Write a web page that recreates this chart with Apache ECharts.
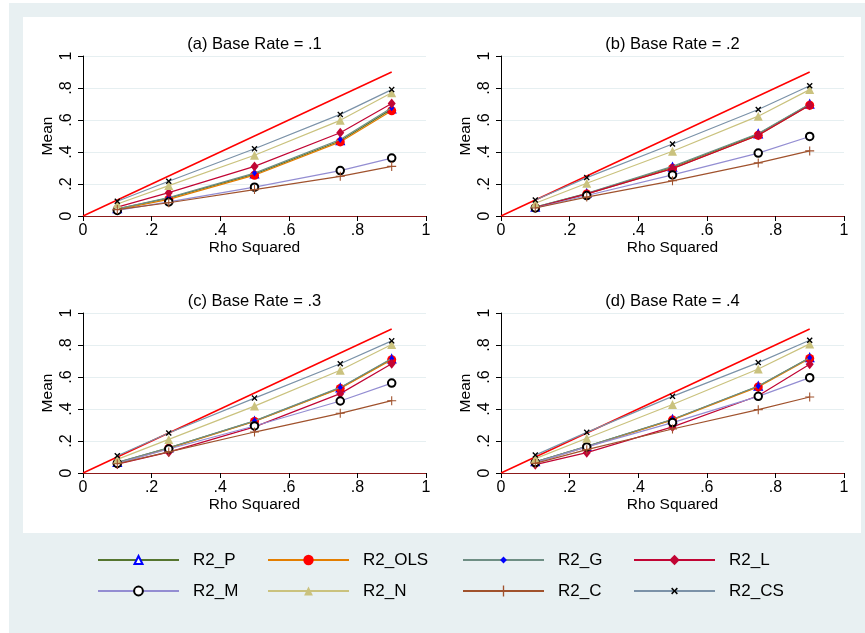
<!DOCTYPE html>
<html>
<head>
<meta charset="utf-8">
<script src="https://cdn.jsdelivr.net/npm/echarts@6/dist/echarts.min.js"></script>
<style>
  html, body { margin: 0; padding: 0; background: #fff; }
  #main { width: 865px; height: 633px; }
</style>
</head>
<body>
<div id="main"></div>
<script>
// x values (rho squared)
var rho = [0.1, 0.25, 0.5, 0.75, 0.9];

var panelTitles = ['(a) Base Rate = .1', '(b) Base Rate = .2', '(c) Base Rate = .3', '(d) Base Rate = .4'];
var seriesNames = ['R2_P', 'R2_OLS', 'R2_G', 'R2_L', 'R2_M', 'R2_N', 'R2_C', 'R2_CS'];

// one row per panel (a, b, c, d), values at each rho
var R2_P = [
  [0.045, 0.112, 0.262, 0.470, 0.668],
  [0.055, 0.140, 0.305, 0.512, 0.698],
  [0.065, 0.157, 0.324, 0.532, 0.712],
  [0.070, 0.166, 0.334, 0.542, 0.720]
];
var R2_OLS = [
  [0.040, 0.104, 0.255, 0.463, 0.658],
  [0.052, 0.138, 0.298, 0.505, 0.692],
  [0.062, 0.154, 0.322, 0.528, 0.708],
  [0.066, 0.163, 0.332, 0.538, 0.716]
];
var R2_G = [
  [0.045, 0.115, 0.268, 0.478, 0.676],
  [0.056, 0.142, 0.310, 0.516, 0.700],
  [0.066, 0.158, 0.326, 0.535, 0.715],
  [0.070, 0.167, 0.336, 0.544, 0.720]
];
var R2_L = [
  [0.055, 0.146, 0.310, 0.520, 0.703],
  [0.052, 0.138, 0.296, 0.505, 0.692],
  [0.055, 0.130, 0.288, 0.496, 0.683],
  [0.052, 0.127, 0.288, 0.483, 0.679]
];
var R2_M = [
  [0.035, 0.088, 0.180, 0.284, 0.362],
  [0.050, 0.128, 0.257, 0.393, 0.497],
  [0.060, 0.150, 0.294, 0.450, 0.562],
  [0.065, 0.163, 0.315, 0.479, 0.596]
];
var R2_N = [
  [0.075, 0.190, 0.380, 0.598, 0.770],
  [0.080, 0.205, 0.405, 0.624, 0.790],
  [0.085, 0.210, 0.418, 0.642, 0.803],
  [0.090, 0.217, 0.428, 0.650, 0.807]
];
var R2_C = [
  [0.040, 0.083, 0.165, 0.248, 0.310],
  [0.050, 0.118, 0.220, 0.332, 0.407],
  [0.058, 0.132, 0.256, 0.373, 0.452],
  [0.060, 0.146, 0.275, 0.396, 0.475]
];
var R2_CS = [
  [0.092, 0.217, 0.420, 0.635, 0.790],
  [0.100, 0.240, 0.450, 0.666, 0.814],
  [0.108, 0.250, 0.468, 0.683, 0.826],
  [0.112, 0.254, 0.479, 0.690, 0.830]
];
// reference line y = x
var refLine = [[0, 0], [0.9, 0.9]];

var allData = [R2_P, R2_OLS, R2_G, R2_L, R2_M, R2_N, R2_C, R2_CS];

var PLUS = 'path://M4.4,0h1.2v4.4h4.4v1.2h-4.4v4.4h-1.2v-4.4h-4.4v-1.2h4.4z';
var CROSS = 'path://M0,1.6L1.6,0L5,3.4L8.4,0L10,1.6L6.6,5L10,8.4L8.4,10L5,6.6L1.6,10L0,8.4L3.4,5z';

var looks = {
  R2_P:   { line: '#55752f', sym: 'emptyTriangle', symColor: '#0000ff', size: 7, leg: 10 },
  R2_OLS: { line: '#e37e00', sym: 'circle', symColor: '#ff0000', size: 9, leg: 13 },
  R2_G:   { line: '#6e8e84', sym: 'diamond', symColor: '#0000ff', size: [5, 7], leg: 8.5 },
  R2_L:   { line: '#c10534', sym: 'diamond', symColor: '#c10534', size: [8, 10], leg: 13 },
  R2_M:   { line: '#938dd2', sym: 'emptyCircle', symColor: '#000000', size: 7.5, leg: 11 },
  R2_N:   { line: '#cac27e', sym: 'triangle', symColor: '#cac27e', size: 9, leg: 11 },
  R2_C:   { line: '#a0522d', sym: PLUS, symColor: '#a0522d', size: 9, leg: 14 },
  R2_CS:  { line: '#7b92a8', sym: CROSS, symColor: '#000000', size: 6, leg: 8.5 }
};

var FONT = '"Liberation Sans", Arial, Helvetica, sans-serif';
var gridPos = [
  { left: 83, top: 56 },
  { left: 501, top: 56 },
  { left: 83, top: 313 },
  { left: 501, top: 313 }
];

function tickFmt(v) {
  var s = String(+(+v).toFixed(1));
  return s.replace(/^0\./, '.');
}

var grids = [], xAxes = [], yAxes = [], series = [], graphics = [];

// background frame (light bluish gray) round the white plot region
graphics.push({ type: 'rect', silent: true, shape: { x: 9, y: 3, width: 856, height: 14 }, style: { fill: '#e8f0f2' } });
graphics.push({ type: 'rect', silent: true, shape: { x: 9, y: 17, width: 14, height: 516 }, style: { fill: '#e8f0f2' } });
graphics.push({ type: 'rect', silent: true, shape: { x: 861, y: 17, width: 4, height: 516 }, style: { fill: '#e8f0f2' } });
graphics.push({ type: 'rect', silent: true, shape: { x: 9, y: 533, width: 856, height: 100 }, style: { fill: '#e8f0f2' } });

gridPos.forEach(function (g, i) {
  grids.push({ left: g.left, top: g.top, width: 343, height: 160 });
  xAxes.push({
    type: 'value', gridIndex: i, min: 0, max: 1, interval: 0.2,
    name: 'Rho Squared', nameLocation: 'middle', nameGap: 22,
    nameTextStyle: { fontFamily: FONT, fontSize: 15.5, color: '#000' },
    axisLine: { show: true, onZero: false, lineStyle: { color: '#8b1a1a', width: 1.2 } },
    axisTick: { show: true, length: 5, lineStyle: { color: '#000' } },
    axisLabel: { formatter: tickFmt, margin: 7, fontFamily: FONT, fontSize: 16, color: '#000' },
    splitLine: { show: false }
  });
  yAxes.push({
    type: 'value', gridIndex: i, min: 0, max: 1, interval: 0.2,
    name: 'Mean', nameLocation: 'middle', nameGap: 27,
    nameTextStyle: { fontFamily: FONT, fontSize: 15.5, color: '#000' },
    axisLine: { show: true, lineStyle: { color: '#000', width: 1 } },
    axisTick: { show: true, length: 5, lineStyle: { color: '#000' } },
    axisLabel: { formatter: tickFmt, rotate: 90, margin: 8, fontFamily: FONT, fontSize: 16, color: '#000' },
    splitLine: { show: true, lineStyle: { color: '#e6eff1', width: 1 } }
  });
  graphics.push({
    type: 'text', silent: true, x: g.left + 171.5, y: g.top - 12,
    style: {
      text: panelTitles[i], font: '16.5px ' + FONT, fill: '#000',
      textAlign: 'center', textVerticalAlign: 'middle', align: 'center', verticalAlign: 'middle'
    }
  });

  series.push({
    name: 'ref', type: 'line', xAxisIndex: i, yAxisIndex: i,
    data: refLine, symbol: 'none', silent: true,
    lineStyle: { color: '#ff0000', width: 1.5 }, z: 2
  });
  seriesNames.forEach(function (name, k) {
    var lk = looks[name];
    series.push({
      name: name, type: 'line', xAxisIndex: i, yAxisIndex: i,
      data: rho.map(function (x, j) { return [x, allData[k][i][j]]; }),
      symbol: lk.sym, symbolSize: lk.size, showAllSymbol: true,
      lineStyle: { color: lk.line, width: 1.2 },
      itemStyle: { color: lk.symColor, borderColor: lk.symColor, borderWidth: lk.sym.indexOf('empty') === 0 ? 1.3 : 0 },
      z: 3 + k
    });
  });
});

// legend: one component per entry so the columns line up
var legCols = [97, 267, 462, 633];
var legRowMid = [560, 591];
var legends = seriesNames.map(function (name, k) {
  var h = looks[name].leg;
  return {
    data: [name], left: legCols[k % 4], top: legRowMid[Math.floor(k / 4)] - 8.5,
    padding: 0, itemWidth: 81, itemHeight: h, selectedMode: false,
    lineStyle: { width: 2 },
    textStyle: { fontFamily: FONT, fontSize: 17, color: '#000', padding: [0, 0, 0, 9] }
  };
});

var myChart = echarts.init(document.getElementById('main'));
myChart.setOption({
  backgroundColor: '#fff',
  animation: false,
  graphic: { elements: graphics },
  legend: legends,
  grid: grids,
  xAxis: xAxes,
  yAxis: yAxes,
  series: series
});
</script>
</body>
</html>
